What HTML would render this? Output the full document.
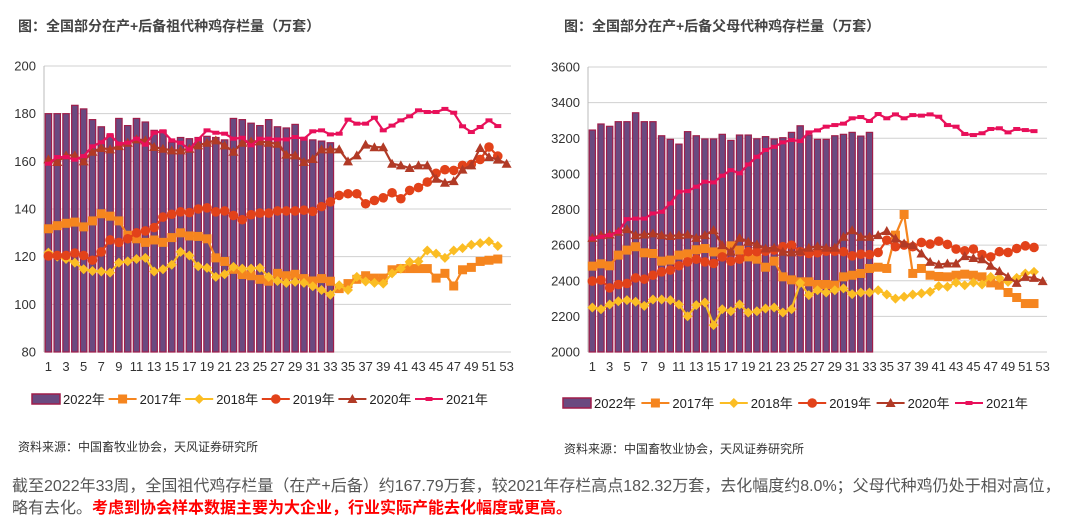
<!DOCTYPE html>
<html><head><meta charset="utf-8">
<style>
body{margin:0;width:1080px;height:530px;background:#fff;overflow:hidden;font-family:"Liberation Sans","Noto Sans CJK SC",sans-serif;}
svg{position:absolute;left:0;top:0}
.t{font-size:16px;color:#555;position:absolute;left:12px;white-space:nowrap;font-family:"Liberation Sans","Noto Sans CJK SC",sans-serif}
.red{color:#f00;font-weight:bold}
</style></head><body>
<svg id="chart" width="1080" height="530" xmlns="http://www.w3.org/2000/svg"></svg>
<div class="t" style="top:472px">截至2022年33周，全国祖代鸡存栏量（在产+后备）约167.79万套，较2021年存栏高点182.32万套，去化幅度约8.0%；父母代种鸡仍处于相对高位，</div>
<div class="t" style="top:494px">略有去化。<span class="red">考虑到协会样本数据主要为大企业，行业实际产能去化幅度或更高。</span></div>
<script>
const weeks = Array.from({length:53},(_,i)=>i+1);
const weekLabels = weeks.filter(w=>w%2===1).map(String);
const gpYTicks = [80,100,120,140,160,180,200];
const gp2022 = [180,180,180,183.5,182,177.5,174.5,171,178,175,178,176.5,173,173,168,170,169.5,170,170.5,170,169,178,177.5,176,175,177.5,174.5,174,175.5,170,169,168.5,167.8];
const gp2017 = [131.7,133,134,134.5,132.5,135,138,137,135,129,127.5,126,127,126,128,130,128.7,128.5,127.5,119.5,118,114.7,112.5,112,110.5,109.7,113,112,112.6,110.8,109.8,110.8,109.7,106.6,108.7,110.5,112,111,111,114.5,115,115,115,115,111,113,107.7,114.5,115.5,118,118.5,119];
const gp2018 = [121.7,120,119,117.5,114.7,114,113.8,113.3,117.5,118,119,119.5,113.8,114.7,116.6,122,120.5,116,115.3,111.5,112.6,115.7,115,115,115.3,111.5,109.8,109,109.4,109,107.6,106,104,108,106,111.5,109.6,109,108.7,113,115,117.8,118,122.6,121.3,119.5,122.6,123.6,125,125.7,126.4,124.5];
const gp2019 = [120.3,120.5,120.5,121.5,120.5,118.5,122,127,126,127.5,130,130.8,132.2,136.6,137.8,138.8,138.5,140,140.5,138.8,139.2,137.3,135.5,137.6,138.3,138.3,139.2,139.2,139.2,139.5,139,141,143,145.7,146.4,146.4,142.2,143.6,144.7,146.8,144.3,147.8,149,151.3,155,156.5,156.2,158.3,158.7,160.8,166,162.2];
const gp2020 = [160.8,159.7,162.5,162.5,160,164,165.6,165,166.4,167.8,169.2,168.8,166,165.3,164.6,164.6,165.3,166.7,167.8,168.8,166.7,164,167.8,168.4,168.4,167.8,167.4,162.8,162.5,159.7,161,165,165,165,160,162.5,167,165.9,165.9,159,158.3,157.2,158.3,158.3,152.7,151,151.7,156.5,158.3,165.6,161.8,160.7,159];
const gp2021 = [159,161.8,161.8,160.7,162.2,166.3,168,171,167.4,167.8,169.5,167,172,172.6,168.8,167.8,165,169.2,173,172,171.6,169.5,169.9,166.7,169.5,169.5,169.2,169.2,170.2,169.5,172.6,173,171.3,171.6,177.5,175.8,175.8,178.3,173,175,177.2,178.9,181.4,180.7,180.7,182,180.4,174.7,172.3,174.4,177.2,174.8];
const psYTicks = [2000,2200,2400,2600,2800,3000,3200,3400,3600];
const ps2022 = [3246,3280,3267,3293,3293,3343,3293,3293,3214,3194,3167,3237,3214,3196,3196,3222,3188,3218,3218,3197,3209,3196,3203,3233,3270,3218,3194,3194,3214,3222,3233,3212,3233];
const ps2017 = [2482,2495,2484,2544,2572,2591,2557,2553,2510,2516,2544,2551,2574,2581,2562,2562,2596,2572,2534,2521,2476,2510,2422,2405,2394,2394,2379,2379,2375,2422,2431,2441,2469,2476,2469,2656,2772,2441,2469,2431,2424,2422,2431,2437,2431,2422,2388,2375,2334,2306,2272,2272];
const ps2018 = [2250,2240,2267,2285,2291,2282,2259,2295,2295,2291,2267,2201,2263,2278,2151,2240,2229,2267,2222,2229,2244,2250,2222,2240,2388,2319,2347,2334,2347,2357,2325,2334,2334,2347,2323,2300,2310,2323,2329,2338,2370,2366,2390,2375,2390,2379,2422,2416,2394,2416,2441,2450];
const ps2019 = [2398,2404,2360,2379,2385,2416,2409,2431,2450,2460,2484,2506,2521,2506,2497,2534,2510,2521,2563,2563,2566,2572,2591,2600,2563,2553,2557,2566,2566,2563,2540,2549,2547,2559,2628,2591,2600,2591,2615,2606,2622,2604,2578,2568,2578,2547,2534,2563,2559,2581,2596,2587];
const ps2020 = [2641,2656,2660,2675,2690,2656,2660,2666,2656,2651,2656,2660,2641,2656,2684,2600,2563,2641,2619,2604,2581,2585,2563,2559,2566,2585,2594,2585,2585,2647,2684,2647,2647,2656,2679,2637,2609,2600,2553,2506,2491,2497,2497,2538,2528,2521,2484,2454,2422,2388,2422,2416,2398];
const ps2021 = [2637,2647,2656,2675,2746,2749,2749,2778,2787,2834,2900,2903,2928,2956,2952,2990,3021,3003,3053,3096,3134,3152,3177,3190,3184,3233,3244,3265,3274,3282,3312,3319,3297,3336,3312,3334,3312,3330,3327,3334,3321,3274,3265,3224,3218,3228,3252,3256,3233,3252,3246,3240];
const legendLabels = ['2022年','2017年','2018年','2019年','2020年','2021年'];

const NS='http://www.w3.org/2000/svg';
const svg=document.getElementById('chart');
function mk(tag,attrs,parent){const e=document.createElementNS(NS,tag);for(const k in attrs)e.setAttribute(k,attrs[k]);(parent||svg).appendChild(e);return e;}
const C={y17:'#f5851f',y18:'#fbbd24',y19:'#e2421a',y20:'#b13a26',y21:'#e8105a',bar:'#6a4a80',barS:'#a01d4a'};

function marker(g,type,x,y,col){
  let e;
  if(type==='sq') e=mk('rect',{x:x-4.5,y:y-4.5,width:9,height:9,fill:col},g);
  else if(type==='di') e=mk('polygon',{points:`${x},${y-5} ${x+5},${y} ${x},${y+5} ${x-5},${y}`,fill:col},g);
  else if(type==='ci') e=mk('circle',{cx:x,cy:y,r:4.8,fill:col},g);
  else if(type==='tr') e=mk('polygon',{points:`${x},${y-5} ${x+5},${y+4} ${x-5},${y+4}`,fill:col},g);
  else e=mk('rect',{x:x-3.5,y:y-2,width:7,height:4,fill:col},g);
  return e;
}

function chart(cfg){
  const {x0,x1,yTop,yBot,ticks,id}=cfg;
  const vmin=ticks[0],vmax=ticks[ticks.length-1];
  const bw=(x1-x0)/53;
  const xs=i=>x0+bw*(i+0.5);
  const ys=v=>yBot-(v-vmin)/(vmax-vmin)*(yBot-yTop);
  const g=mk('g',{});
  
  
  ticks.forEach(t=>{
    const l=mk('line',{x1:x0,x2:x1,y1:ys(t),y2:ys(t),stroke:'#d0d0d0','stroke-width':1},g);
    
    
    const tx=mk('text',{x:x0-8,y:ys(t)+4.5,'text-anchor':'end','font-size':'13',fill:'#333'},g);
    tx.textContent=t;
    
    
  });
  mk('line',{x1:x0,x2:x0,y1:yTop,y2:yBot,stroke:'#bbb'},g);
  weeks.forEach((w,i)=>{
    if(w%2===1){
      const tx=mk('text',{x:xs(i),y:yBot+19,'text-anchor':'middle','font-size':'13',fill:'#333'},g);
      tx.textContent=weekLabels[(w-1)/2];
      
      
    }
  });
  cfg.bars.forEach((v,i)=>{
    const r=mk('rect',{x:xs(i)-bw/2+1.2,y:ys(v),width:bw-2.4,height:yBot-ys(v),fill:C.bar,stroke:C.barS,'stroke-width':1.2},g);
    
    
  });
  cfg.series.forEach(s=>{
    const sg=mk('g',{},g);
    
    
    const pts=s.data.map((v,i)=>xs(i)+','+ys(v)).join(' ');
    const pl=mk('polyline',{points:pts,fill:'none',stroke:s.col,'stroke-width':2.2},sg);
    
    
    s.data.forEach((v,i)=>{
      const m=marker(sg,s.m,xs(i),ys(v),s.col);
      
      
    });
  });
  const tt=mk('text',{x:cfg.titleX,y:31,'font-size':'14','font-weight':'bold',fill:'#444'});
  tt.textContent=cfg.title;
  
  
  const src=mk('text',{x:cfg.titleX,y:cfg.srcY,'font-size':'12',fill:'#333'});
  src.textContent='资料来源：中国畜牧业协会，天风证券研究所';
  
  
  // legend
  const lg=mk('g',{});
  
  
  const ly=cfg.legY;
  const types=[null,'sq','di','ci','tr','da'];
  const cols=[null,C.y17,C.y18,C.y19,C.y20,C.y21];
  legendLabels.forEach((lab,k)=>{
    const ex=cfg.legX+k*cfg.legStep;
    const eg=mk('g',{},lg);
    
    
    if(k===0) mk('rect',{x:ex,y:ly-5,width:28,height:10,fill:C.bar,stroke:C.barS,'stroke-width':1.5},eg);
    else { mk('line',{x1:ex,x2:ex+28,y1:ly,y2:ly,stroke:cols[k],'stroke-width':2},eg); marker(eg,types[k],ex+14,ly,cols[k]); }
    const t=mk('text',{x:ex+31,y:ly+5,'font-size':'13',fill:'#222'},eg);
    t.textContent=lab;
  });
}
chart({id:'grandparent',x0:44,x1:511,yTop:66,yBot:352,ticks:gpYTicks,bars:gp2022,titleX:18,title:'图：全国部分在产+后备祖代种鸡存栏量（万套）',srcY:451,legX:32,legY:399,legStep:76.6,
  series:[{name:'2017',data:gp2017,col:C.y17,m:'sq'},{name:'2018',data:gp2018,col:C.y18,m:'di'},{name:'2019',data:gp2019,col:C.y19,m:'ci'},{name:'2020',data:gp2020,col:C.y20,m:'tr'},{name:'2021',data:gp2021,col:C.y21,m:'da'}]});
chart({id:'parent-stock',x0:588,x1:1047,yTop:67,yBot:352,ticks:psYTicks,bars:ps2022,titleX:564,title:'图：全国部分在产+后备父母代种鸡存栏量（万套）',srcY:453,legX:563,legY:403,legStep:78.4,
  series:[{name:'2017',data:ps2017,col:C.y17,m:'sq'},{name:'2018',data:ps2018,col:C.y18,m:'di'},{name:'2019',data:ps2019,col:C.y19,m:'ci'},{name:'2020',data:ps2020,col:C.y20,m:'tr'},{name:'2021',data:ps2021,col:C.y21,m:'da'}]});
</script>
</body></html>
